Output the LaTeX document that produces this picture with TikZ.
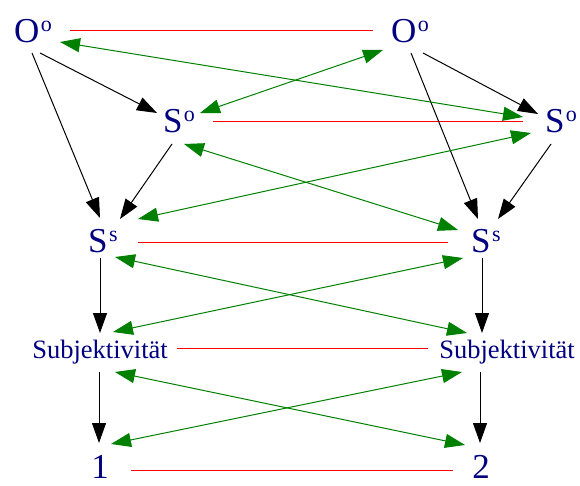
\documentclass[tikz,border=0pt]{standalone}
\usepackage{fontspec}
\setmainfont{Liberation Serif}
\usepackage{tikz}
\usetikzlibrary{arrows.meta, calc}
\definecolor{ink}{HTML}{000080}
\definecolor{cross}{HTML}{008000}
\definecolor{twin}{HTML}{FF0000}
\newcommand{\hoch}[1]{\kern1.5pt\raisebox{0.32em}{\fontsize{22pt}{22pt}\selectfont #1}}

\begin{document}
\begin{tikzpicture}[x=1pt, y=-1pt,
    >={Triangle[length=20pt, width=14pt]},
    every node/.style={inner sep=0pt, text=ink,
      font=\fontsize{35pt}{35pt}\selectfont},
    small/.style={font=\fontsize{26.5pt}{26.5pt}\selectfont},
    pro/.style={line width=1pt, ->},
    both/.style={cross, line width=1pt, <->},
    pair/.style={twin, line width=1pt}]
  \useasboundingbox (0,0) rectangle (580,486);

  \node (oL) at (33,31) {O\hoch{o}};
  \node (oR) at (410,31) {O\hoch{o}};
  \node (soL) at (179,121) {S\hoch{o}};
  \node (soR) at (561,121) {S\hoch{o}};
  \node (ssL) at (103,241) {S\hoch{s}};
  \node (ssR) at (486,241) {S\hoch{s}};
  \node[small] (subL) at (100,352) {Subjektivität};
  \node[small] (subR) at (507,352) {Subjektivität};
  \node (one) at (100,467) {1};
  \node (two) at (481,467) {2};

  \draw[pair] ($(oL)+(37,0)$) -- ($(oR)+(-37,0)$);
  \draw[pair] ($(soL)+(34,1)$) -- ($(soR)+(-38,1)$);
  \draw[pair] ($(ssL)+(35,1)$) -- ($(ssR)+(-38,1)$);
  \draw[pair] ($(subL)+(77,-4)$) -- ($(subR)+(-79,-4)$);
  \draw[pair] ($(one)+(31,3)$) -- ($(two)+(-28,3)$);

  \draw[pro] ($(oL)+(7,22)$) -- ($(soL)+(-22,-8)$);
  \draw[pro] ($(oL)+(-1,22)$) -- ($(ssL)+(-3,-23)$);
  \draw[pro] ($(soL)+(-7,23)$) -- ($(ssL)+(17,-22)$);
  \draw[pro] ($(oR)+(13,22)$) -- ($(soR)+(-23,-7)$);
  \draw[pro] ($(oR)+(1,22)$) -- ($(ssR)+(-8,-22)$);
  \draw[pro] ($(soR)+(-10,23)$) -- ($(ssR)+(12,-22)$);
  \draw[pro] ($(ssL)+(-3,17)$) -- ($(subL)+(0,-19)$);
  \draw[pro] ($(ssR)+(-4,17)$) -- ($(subR)+(-25,-19)$);
  \draw[pro] ($(subL)+(-1,20)$) -- ($(one)+(-1,-24)$);
  \draw[pro] ($(subR)+(-27,20)$) -- ($(two)+(-1,-24)$);

  \draw[both] ($(oL)+(27,11)$) -- ($(soR)+(-38,-4)$);
  \draw[both] ($(oR)+(-27,19)$) -- ($(soL)+(21,-8)$);
  \draw[both] ($(ssL)+(35,-22)$) -- ($(soR)+(-30,12)$);
  \draw[both] ($(soL)+(5,23)$) -- ($(ssR)+(-28,-11)$);
  \draw[both] ($(ssL)+(12,16)$) -- ($(subR)+(-40,-19)$);
  \draw[both] ($(ssR)+(-23,17)$) -- ($(subL)+(13,-20)$);
  \draw[both] ($(subL)+(15,20)$) -- ($(two)+(-16,-22)$);
  \draw[both] ($(subR)+(-45,20)$) -- ($(one)+(11,-23)$);
\end{tikzpicture}
\end{document}
